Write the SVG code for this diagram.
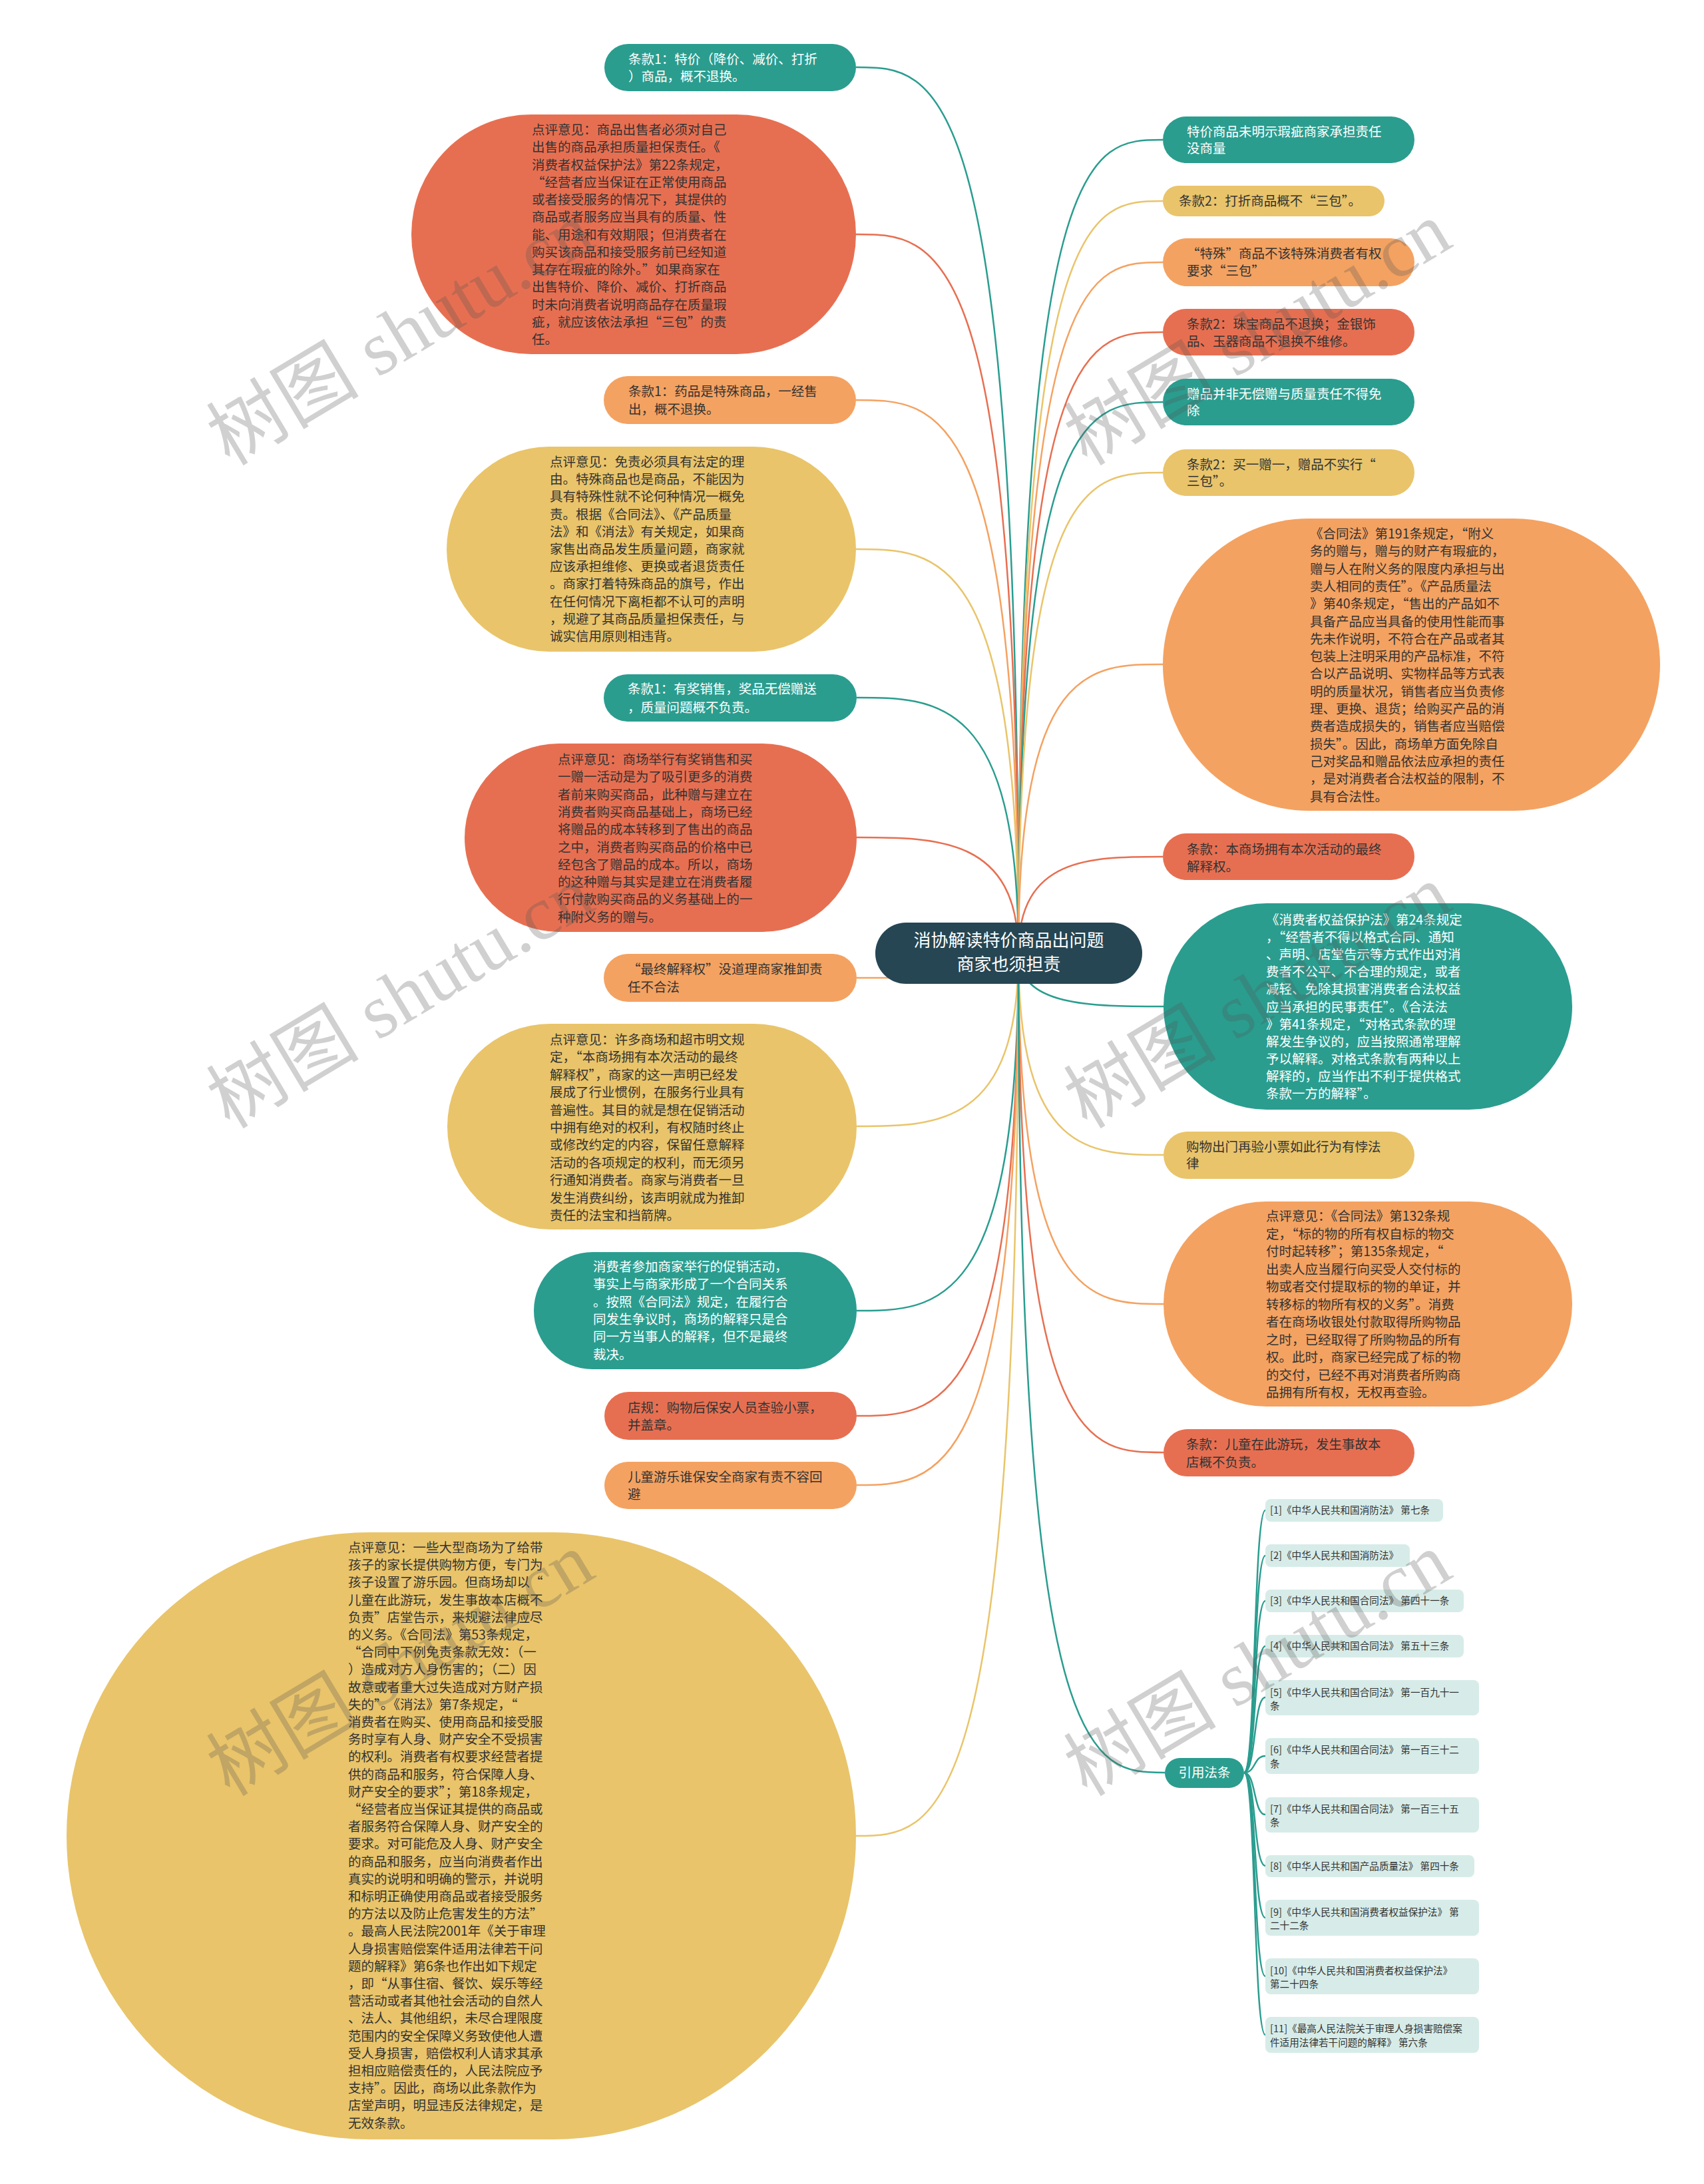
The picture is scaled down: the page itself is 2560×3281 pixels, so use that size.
<svg xmlns="http://www.w3.org/2000/svg" width="2560" height="3281" viewBox="0 0 2560 3281">
<defs>
<style>
.bg{fill:#ffffff}
.teal{fill:#2A9D8F}
.yel{fill:#E9C46A}
.ora{fill:#F4A261}
.red{fill:#E76F51}
.dark{fill:#264653}
.ref{fill:#D7ECE8}
.t{font-family:"Noto Sans CJK SC","Noto Sans",sans-serif;font-size:19.5px;fill:#333333}
.w{fill:#ffffff}
.rt{font-family:"Noto Sans CJK SC","Noto Sans",sans-serif;font-size:14.6px;fill:#333333}
.ct{font-family:"Noto Sans CJK SC","Noto Sans",sans-serif;font-size:26px;fill:#ffffff;text-anchor:middle}
.c{fill:none;stroke-width:2.5}
.cteal{stroke:#2A9D8F}
.cyel{stroke:#E9C46A}
.cora{stroke:#F4A261}
.cred{stroke:#E76F51}
.wm{font-family:"Liberation Serif","Noto Sans CJK SC",serif;font-size:115px;fill:#555555;fill-opacity:0.28}
</style>
</defs>
<rect class="bg" x="0" y="0" width="2560" height="3281"/>

<g id="connectors">
<path class="c cteal" d="M1530,1432 C1530,101 1408,101 1286,101"/>
<path class="c cred" d="M1530,1432 C1530,352 1408,352 1286,352"/>
<path class="c cora" d="M1530,1432 C1530,601 1408,601 1286,601"/>
<path class="c cyel" d="M1530,1432 C1530,825 1408,825 1286,825"/>
<path class="c cteal" d="M1530,1432 C1530,1048 1408,1048 1287,1048"/>
<path class="c cred" d="M1530,1432 C1530,1258 1408,1258 1287,1258"/>
<path class="c cora" d="M1530,1432 C1530,1469 1408,1469 1287,1469"/>
<path class="c cyel" d="M1530,1432 C1530,1692 1408,1692 1287,1692"/>
<path class="c cteal" d="M1530,1432 C1530,1969 1408,1969 1287,1969"/>
<path class="c cred" d="M1530,1432 C1530,2127 1408,2127 1287,2127"/>
<path class="c cora" d="M1530,1432 C1530,2231 1408,2231 1287,2231"/>
<path class="c cyel" d="M1530,1432 C1530,2758 1408,2758 1286,2758"/>
<path class="c cteal" d="M1530,1432 C1530,210 1638,210 1747,210"/>
<path class="c cyel" d="M1530,1432 C1530,302 1638,302 1747,302"/>
<path class="c cora" d="M1530,1432 C1530,394 1638,394 1747,394"/>
<path class="c cred" d="M1530,1432 C1530,499 1638,499 1747,499"/>
<path class="c cteal" d="M1530,1432 C1530,604 1638,604 1747,604"/>
<path class="c cyel" d="M1530,1432 C1530,710 1638,710 1747,710"/>
<path class="c cora" d="M1530,1432 C1530,998 1638,998 1747,998"/>
<path class="c cred" d="M1530,1432 C1530,1287 1638,1287 1747,1287"/>
<path class="c cteal" d="M1530,1432 C1530,1512 1638,1512 1748,1512"/>
<path class="c cyel" d="M1530,1432 C1530,1735 1638,1735 1748,1735"/>
<path class="c cora" d="M1530,1432 C1530,1959 1638,1959 1748,1959"/>
<path class="c cred" d="M1530,1432 C1530,2182 1638,2182 1748,2182"/>
<path class="c cteal" d="M1530,1432 C1530,2663 1640,2663 1750,2663"/>
<path class="c cteal" d="M1869,2663 C1887,2663 1883,2269 1901,2269"/>
<path class="c cteal" d="M1869,2663 C1887,2663 1883,2337 1901,2337"/>
<path class="c cteal" d="M1869,2663 C1887,2663 1883,2405 1901,2405"/>
<path class="c cteal" d="M1869,2663 C1887,2663 1883,2473 1901,2473"/>
<path class="c cteal" d="M1869,2663 C1887,2663 1883,2550 1901,2550"/>
<path class="c cteal" d="M1869,2663 C1887,2663 1883,2638 1901,2638"/>
<path class="c cteal" d="M1869,2663 C1887,2663 1883,2726 1901,2726"/>
<path class="c cteal" d="M1869,2663 C1887,2663 1883,2803 1901,2803"/>
<path class="c cteal" d="M1869,2663 C1887,2663 1883,2881 1901,2881"/>
<path class="c cteal" d="M1869,2663 C1887,2663 1883,2969 1901,2969"/>
<path class="c cteal" d="M1869,2663 C1887,2663 1883,3057 1901,3057"/>
</g>

<g id="center">
<rect class="dark" x="1315" y="1386" width="401" height="92" rx="46"/>
<text class="ct"><tspan x="1515.5" y="1422">消协解读特价商品出问题</tspan><tspan x="1515.5" y="1458">商家也须担责</tspan></text>
</g>

<g id="n-a1">
<rect class="teal" x="908" y="66" width="378" height="71" rx="35.5"/>
<text class="t w"><tspan x="944" y="96">条款1：特价（降价、减价、打折</tspan><tspan x="944" y="122">）商品，概不退换。</tspan></text>
</g>

<g id="n-a2">
<rect class="red" x="618" y="172" width="668" height="360" rx="180"/>
<text class="t"><tspan x="799" y="202">点评意见：商品出售者必须对自己</tspan><tspan x="799" dy="26.25">出售的商品承担质量担保责任。《</tspan><tspan x="799" dy="26.25">消费者权益保护法》第22条规定，</tspan><tspan x="799" dy="26.25">“经营者应当保证在正常使用商品</tspan><tspan x="799" dy="26.25">或者接受服务的情况下，其提供的</tspan><tspan x="799" dy="26.25">商品或者服务应当具有的质量、性</tspan><tspan x="799" dy="26.25">能、用途和有效期限；但消费者在</tspan><tspan x="799" dy="26.25">购买该商品和接受服务前已经知道</tspan><tspan x="799" dy="26.25">其存在瑕疵的除外。”如果商家在</tspan><tspan x="799" dy="26.25">出售特价、降价、减价、打折商品</tspan><tspan x="799" dy="26.25">时未向消费者说明商品存在质量瑕</tspan><tspan x="799" dy="26.25">疵，就应该依法承担“三包”的责</tspan><tspan x="799" dy="26.25">任。</tspan></text>
</g>

<g id="n-a3">
<rect class="ora" x="907" y="565" width="379" height="72" rx="36"/>
<text class="t"><tspan x="944" y="595">条款1：药品是特殊商品，一经售</tspan><tspan x="944" y="622">出，概不退换。</tspan></text>
</g>

<g id="n-a4">
<rect class="yel" x="671" y="671" width="615" height="308" rx="154"/>
<text class="t"><tspan x="826" y="701">点评意见：免责必须具有法定的理</tspan><tspan x="826" dy="26.2">由。特殊商品也是商品，不能因为</tspan><tspan x="826" dy="26.2">具有特殊性就不论何种情况一概免</tspan><tspan x="826" dy="26.2">责。根据《合同法》、《产品质量</tspan><tspan x="826" dy="26.2">法》和《消法》有关规定，如果商</tspan><tspan x="826" dy="26.2">家售出商品发生质量问题，商家就</tspan><tspan x="826" dy="26.2">应该承担维修、更换或者退货责任</tspan><tspan x="826" dy="26.2">。商家打着特殊商品的旗号，作出</tspan><tspan x="826" dy="26.2">在任何情况下离柜都不认可的声明</tspan><tspan x="826" dy="26.2">，规避了其商品质量担保责任，与</tspan><tspan x="826" dy="26.2">诚实信用原则相违背。</tspan></text>
</g>

<g id="n-a5">
<rect class="teal" x="907" y="1013" width="380" height="71" rx="35.5"/>
<text class="t w"><tspan x="943" y="1042">条款1：有奖销售，奖品无偿赠送</tspan><tspan x="943" y="1070">，质量问题概不负责。</tspan></text>
</g>

<g id="n-a6">
<rect class="red" x="698" y="1117" width="589" height="283" rx="141.5"/>
<text class="t"><tspan x="838" y="1148">点评意见：商场举行有奖销售和买</tspan><tspan x="838" dy="26.3">一赠一活动是为了吸引更多的消费</tspan><tspan x="838" dy="26.3">者前来购买商品，此种赠与建立在</tspan><tspan x="838" dy="26.3">消费者购买商品基础上，商场已经</tspan><tspan x="838" dy="26.3">将赠品的成本转移到了售出的商品</tspan><tspan x="838" dy="26.3">之中，消费者购买商品的价格中已</tspan><tspan x="838" dy="26.3">经包含了赠品的成本。所以，商场</tspan><tspan x="838" dy="26.3">的这种赠与其实是建立在消费者履</tspan><tspan x="838" dy="26.3">行付款购买商品的义务基础上的一</tspan><tspan x="838" dy="26.3">种附义务的赠与。</tspan></text>
</g>

<g id="n-a7">
<rect class="ora" x="907" y="1433" width="380" height="72" rx="36"/>
<text class="t"><tspan x="943" y="1463">“最终解释权”没道理商家推卸责</tspan><tspan x="943" y="1490">任不合法</tspan></text>
</g>

<g id="n-a8">
<rect class="yel" x="672" y="1538" width="615" height="309" rx="154.5"/>
<text class="t"><tspan x="826" y="1569">点评意见：许多商场和超市明文规</tspan><tspan x="826" dy="26.4">定，“本商场拥有本次活动的最终</tspan><tspan x="826" dy="26.4">解释权”，商家的这一声明已经发</tspan><tspan x="826" dy="26.4">展成了行业惯例，在服务行业具有</tspan><tspan x="826" dy="26.4">普遍性。其目的就是想在促销活动</tspan><tspan x="826" dy="26.4">中拥有绝对的权利，有权随时终止</tspan><tspan x="826" dy="26.4">或修改约定的内容，保留任意解释</tspan><tspan x="826" dy="26.4">活动的各项规定的权利，而无须另</tspan><tspan x="826" dy="26.4">行通知消费者。商家与消费者一旦</tspan><tspan x="826" dy="26.4">发生消费纠纷，该声明就成为推卸</tspan><tspan x="826" dy="26.4">责任的法宝和挡箭牌。</tspan></text>
</g>

<g id="n-a9">
<rect class="teal" x="802" y="1881" width="485" height="176" rx="88"/>
<text class="t w"><tspan x="891" y="1910">消费者参加商家举行的促销活动，</tspan><tspan x="891" dy="26.3">事实上与商家形成了一个合同关系</tspan><tspan x="891" dy="26.3">。按照《合同法》规定，在履行合</tspan><tspan x="891" dy="26.3">同发生争议时，商场的解释只是合</tspan><tspan x="891" dy="26.3">同一方当事人的解释，但不是最终</tspan><tspan x="891" dy="26.3">裁决。</tspan></text>
</g>

<g id="n-a10">
<rect class="red" x="908" y="2091" width="379" height="72" rx="36"/>
<text class="t"><tspan x="943" y="2122">店规：购物后保安人员查验小票，</tspan><tspan x="943" y="2148">并盖章。</tspan></text>
</g>

<g id="n-a11">
<rect class="ora" x="908" y="2196" width="379" height="71" rx="35.5"/>
<text class="t"><tspan x="943" y="2226">儿童游乐谁保安全商家有责不容回</tspan><tspan x="943" y="2252">避</tspan></text>
</g>

<g id="n-a12">
<rect class="yel" x="100" y="2302" width="1186" height="912" rx="456"/>
<text class="t"><tspan x="523" y="2332">点评意见：一些大型商场为了给带</tspan><tspan x="523" dy="26.2">孩子的家长提供购物方便，专门为</tspan><tspan x="523" dy="26.2">孩子设置了游乐园。但商场却以“</tspan><tspan x="523" dy="26.2">儿童在此游玩，发生事故本店概不</tspan><tspan x="523" dy="26.2">负责”店堂告示，来规避法律应尽</tspan><tspan x="523" dy="26.2">的义务。《合同法》第53条规定，</tspan><tspan x="523" dy="26.2">“合同中下例免责条款无效：（一</tspan><tspan x="523" dy="26.2">）造成对方人身伤害的；（二）因</tspan><tspan x="523" dy="26.2">故意或者重大过失造成对方财产损</tspan><tspan x="523" dy="26.2">失的”。《消法》第7条规定，“</tspan><tspan x="523" dy="26.2">消费者在购买、使用商品和接受服</tspan><tspan x="523" dy="26.2">务时享有人身、财产安全不受损害</tspan><tspan x="523" dy="26.2">的权利。消费者有权要求经营者提</tspan><tspan x="523" dy="26.2">供的商品和服务，符合保障人身、</tspan><tspan x="523" dy="26.2">财产安全的要求”；第18条规定，</tspan><tspan x="523" dy="26.2">“经营者应当保证其提供的商品或</tspan><tspan x="523" dy="26.2">者服务符合保障人身、财产安全的</tspan><tspan x="523" dy="26.2">要求。对可能危及人身、财产安全</tspan><tspan x="523" dy="26.2">的商品和服务，应当向消费者作出</tspan><tspan x="523" dy="26.2">真实的说明和明确的警示，并说明</tspan><tspan x="523" dy="26.2">和标明正确使用商品或者接受服务</tspan><tspan x="523" dy="26.2">的方法以及防止危害发生的方法”</tspan><tspan x="523" dy="26.2">。最高人民法院2001年《关于审理</tspan><tspan x="523" dy="26.2">人身损害赔偿案件适用法律若干问</tspan><tspan x="523" dy="26.2">题的解释》第6条也作出如下规定</tspan><tspan x="523" dy="26.2">，即“从事住宿、餐饮、娱乐等经</tspan><tspan x="523" dy="26.2">营活动或者其他社会活动的自然人</tspan><tspan x="523" dy="26.2">、法人、其他组织，未尽合理限度</tspan><tspan x="523" dy="26.2">范围内的安全保障义务致使他人遭</tspan><tspan x="523" dy="26.2">受人身损害，赔偿权利人请求其承</tspan><tspan x="523" dy="26.2">担相应赔偿责任的，人民法院应予</tspan><tspan x="523" dy="26.2">支持”。因此，商场以此条款作为</tspan><tspan x="523" dy="26.2">店堂声明，明显违反法律规定，是</tspan><tspan x="523" dy="26.2">无效条款。</tspan></text>
</g>

<g id="n-r1">
<rect class="teal" x="1747" y="175" width="378" height="70" rx="35"/>
<text class="t w"><tspan x="1783" y="205">特价商品未明示瑕疵商家承担责任</tspan><tspan x="1783" y="230">没商量</tspan></text>
</g>

<g id="n-r2">
<rect class="yel" x="1747" y="279" width="333" height="46" rx="23"/>
<text class="t"><tspan x="1771" y="309">条款2：打折商品概不“三包”。</tspan></text>
</g>

<g id="n-r3">
<rect class="ora" x="1747" y="358" width="378" height="72" rx="36"/>
<text class="t"><tspan x="1783" y="388">“特殊”商品不该特殊消费者有权</tspan><tspan x="1783" y="414">要求“三包”</tspan></text>
</g>

<g id="n-r4">
<rect class="red" x="1747" y="464" width="378" height="70" rx="35"/>
<text class="t"><tspan x="1783" y="494">条款2：珠宝商品不退换；金银饰</tspan><tspan x="1783" y="520">品、玉器商品不退换不维修。</tspan></text>
</g>

<g id="n-r5">
<rect class="teal" x="1747" y="569" width="378" height="70" rx="35"/>
<text class="t w"><tspan x="1783" y="599">赠品并非无偿赠与质量责任不得免</tspan><tspan x="1783" y="624">除</tspan></text>
</g>

<g id="n-r6">
<rect class="yel" x="1747" y="675" width="378" height="70" rx="35"/>
<text class="t"><tspan x="1783" y="705">条款2：买一赠一，赠品不实行“</tspan><tspan x="1783" y="730">三包”。</tspan></text>
</g>

<g id="n-r7">
<rect class="ora" x="1747" y="779" width="747" height="439" rx="219.5"/>
<text class="t"><tspan x="1968" y="809">《合同法》第191条规定，“附义</tspan><tspan x="1968" dy="26.3">务的赠与，赠与的财产有瑕疵的，</tspan><tspan x="1968" dy="26.3">赠与人在附义务的限度内承担与出</tspan><tspan x="1968" dy="26.3">卖人相同的责任”。《产品质量法</tspan><tspan x="1968" dy="26.3">》第40条规定，“售出的产品如不</tspan><tspan x="1968" dy="26.3">具备产品应当具备的使用性能而事</tspan><tspan x="1968" dy="26.3">先未作说明，不符合在产品或者其</tspan><tspan x="1968" dy="26.3">包装上注明采用的产品标准，不符</tspan><tspan x="1968" dy="26.3">合以产品说明、实物样品等方式表</tspan><tspan x="1968" dy="26.3">明的质量状况，销售者应当负责修</tspan><tspan x="1968" dy="26.3">理、更换、退货；给购买产品的消</tspan><tspan x="1968" dy="26.3">费者造成损失的，销售者应当赔偿</tspan><tspan x="1968" dy="26.3">损失”。因此，商场单方面免除自</tspan><tspan x="1968" dy="26.3">己对奖品和赠品依法应承担的责任</tspan><tspan x="1968" dy="26.3">，是对消费者合法权益的限制，不</tspan><tspan x="1968" dy="26.3">具有合法性。</tspan></text>
</g>

<g id="n-r8">
<rect class="red" x="1747" y="1252" width="378" height="70" rx="35"/>
<text class="t"><tspan x="1783" y="1283">条款：本商场拥有本次活动的最终</tspan><tspan x="1783" y="1309">解释权。</tspan></text>
</g>

<g id="n-r9">
<rect class="teal" x="1748" y="1357" width="614" height="310" rx="155"/>
<text class="t w"><tspan x="1902" y="1389">《消费者权益保护法》第24条规定</tspan><tspan x="1902" dy="26.1">，“经营者不得以格式合同、通知</tspan><tspan x="1902" dy="26.1">、声明、店堂告示等方式作出对消</tspan><tspan x="1902" dy="26.1">费者不公平、不合理的规定，或者</tspan><tspan x="1902" dy="26.1">减轻、免除其损害消费者合法权益</tspan><tspan x="1902" dy="26.1">应当承担的民事责任”。《合法法</tspan><tspan x="1902" dy="26.1">》第41条规定，“对格式条款的理</tspan><tspan x="1902" dy="26.1">解发生争议的，应当按照通常理解</tspan><tspan x="1902" dy="26.1">予以解释。对格式条款有两种以上</tspan><tspan x="1902" dy="26.1">解释的，应当作出不利于提供格式</tspan><tspan x="1902" dy="26.1">条款一方的解释”。</tspan></text>
</g>

<g id="n-r10">
<rect class="yel" x="1748" y="1700" width="377" height="71" rx="35.5"/>
<text class="t"><tspan x="1782" y="1730">购物出门再验小票如此行为有悖法</tspan><tspan x="1782" y="1755">律</tspan></text>
</g>

<g id="n-r11">
<rect class="ora" x="1748" y="1805" width="614" height="308" rx="154"/>
<text class="t"><tspan x="1902" y="1834">点评意见：《合同法》第132条规</tspan><tspan x="1902" dy="26.5">定，“标的物的所有权自标的物交</tspan><tspan x="1902" dy="26.5">付时起转移”；第135条规定，“</tspan><tspan x="1902" dy="26.5">出卖人应当履行向买受人交付标的</tspan><tspan x="1902" dy="26.5">物或者交付提取标的物的单证，并</tspan><tspan x="1902" dy="26.5">转移标的物所有权的义务”。消费</tspan><tspan x="1902" dy="26.5">者在商场收银处付款取得所购物品</tspan><tspan x="1902" dy="26.5">之时，已经取得了所购物品的所有</tspan><tspan x="1902" dy="26.5">权。此时，商家已经完成了标的物</tspan><tspan x="1902" dy="26.5">的交付，已经不再对消费者所购商</tspan><tspan x="1902" dy="26.5">品拥有所有权，无权再查验。</tspan></text>
</g>

<g id="n-r12">
<rect class="red" x="1748" y="2147" width="377" height="71" rx="35.5"/>
<text class="t"><tspan x="1782" y="2177">条款：儿童在此游玩，发生事故本</tspan><tspan x="1782" y="2204">店概不负责。</tspan></text>
</g>

<g id="n-refs">
<rect class="teal" x="1750" y="2641" width="119" height="45" rx="22.5"/>
<text class="t w" text-anchor="middle"><tspan x="1809.5" y="2670">引用法条</tspan></text>
</g>

<g id="n-ref1"><rect class="ref" x="1901" y="2252" width="267" height="34" rx="8"/><text class="rt"><tspan x="1908" y="2274">[1]《中华人民共和国消防法》 第七条</tspan></text></g>
<g id="n-ref2"><rect class="ref" x="1901" y="2320" width="217" height="34" rx="8"/><text class="rt"><tspan x="1908" y="2342">[2]《中华人民共和国消防法》</tspan></text></g>
<g id="n-ref3"><rect class="ref" x="1901" y="2388" width="298" height="34" rx="8"/><text class="rt"><tspan x="1908" y="2410">[3]《中华人民共和国合同法》 第四十一条</tspan></text></g>
<g id="n-ref4"><rect class="ref" x="1901" y="2456" width="298" height="34" rx="8"/><text class="rt"><tspan x="1908" y="2478">[4]《中华人民共和国合同法》 第五十三条</tspan></text></g>
<g id="n-ref5"><rect class="ref" x="1901" y="2524" width="321" height="53" rx="8"/><text class="rt"><tspan x="1908" y="2548">[5]《中华人民共和国合同法》 第一百九十一</tspan><tspan x="1908" y="2568">条</tspan></text></g>
<g id="n-ref6"><rect class="ref" x="1901" y="2611" width="321" height="54" rx="8"/><text class="rt"><tspan x="1908" y="2634">[6]《中华人民共和国合同法》 第一百三十二</tspan><tspan x="1908" y="2655">条</tspan></text></g>
<g id="n-ref7"><rect class="ref" x="1901" y="2700" width="321" height="53" rx="8"/><text class="rt"><tspan x="1908" y="2723">[7]《中华人民共和国合同法》 第一百三十五</tspan><tspan x="1908" y="2743">条</tspan></text></g>
<g id="n-ref8"><rect class="ref" x="1901" y="2787" width="314" height="33" rx="8"/><text class="rt"><tspan x="1908" y="2809">[8]《中华人民共和国产品质量法》 第四十条</tspan></text></g>
<g id="n-ref9"><rect class="ref" x="1901" y="2854" width="321" height="54" rx="8"/><text class="rt"><tspan x="1908" y="2878">[9]《中华人民共和国消费者权益保护法》 第</tspan><tspan x="1908" y="2898">二十二条</tspan></text></g>
<g id="n-ref10"><rect class="ref" x="1901" y="2942" width="321" height="54" rx="8"/><text class="rt"><tspan x="1908" y="2966">[10]《中华人民共和国消费者权益保护法》</tspan><tspan x="1908" y="2986">第二十四条</tspan></text></g>
<g id="n-ref11"><rect class="ref" x="1901" y="3030" width="321" height="54" rx="8"/><text class="rt"><tspan x="1908" y="3053">[11]《最高人民法院关于审理人身损害赔偿案</tspan><tspan x="1908" y="3074">件适用法律若干问题的解释》 第六条</tspan></text></g>

<g id="watermark">
<text class="wm" x="345" y="701" transform="rotate(-31 345 701)">树图 shutu.cn</text>
<text class="wm" x="345" y="1697" transform="rotate(-31 345 1697)">树图 shutu.cn</text>
<text class="wm" x="345" y="2700" transform="rotate(-31 345 2700)">树图 shutu.cn</text>
<text class="wm" x="1633" y="701" transform="rotate(-31 1633 701)">树图 shutu.cn</text>
<text class="wm" x="1633" y="1697" transform="rotate(-31 1633 1697)">树图 shutu.cn</text>
<text class="wm" x="1633" y="2700" transform="rotate(-31 1633 2700)">树图 shutu.cn</text>
</g>
</svg>
